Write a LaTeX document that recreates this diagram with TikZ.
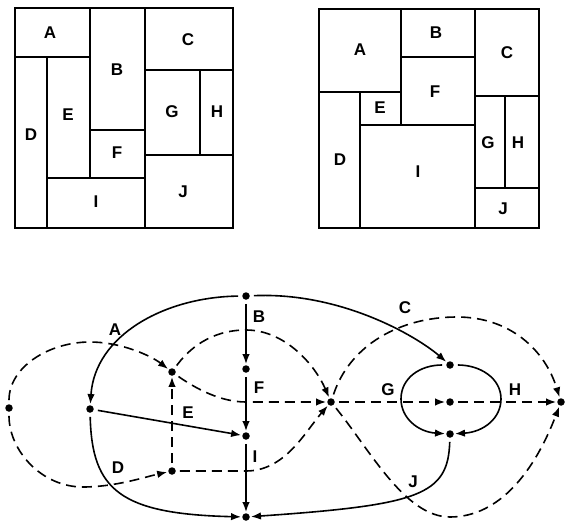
\documentclass[tikz,border=0pt]{standalone}
\usepackage{fontspec}
\setmainfont{Liberation Sans}
\usetikzlibrary{arrows.meta}
\begin{document}
\begin{tikzpicture}[x=1pt,y=-1pt,
  room/.style={draw, line width=1.9pt},
  lbl/.style={font=\fontsize{17}{17}\selectfont\bfseries, inner sep=0pt},
  dot/.style={circle, fill, inner sep=0pt, minimum size=7.5pt},
  edge/.style={line width=1.6pt, -{Latex[length=10pt,width=7.5pt]}, shorten >=1pt, shorten <=4pt},
  dsh/.style={edge, dash pattern=on 10pt off 6pt}]
\useasboundingbox (0,0) rectangle (565,524);

% ---- left floor plan ----
\draw[room] (15,8) rectangle (90,57);
\draw[room] (90,8) rectangle (145,130);
\draw[room] (90,130) rectangle (145,178);
\draw[room] (15,57) rectangle (47,228);
\draw[room] (47,57) rectangle (90,178);
\draw[room] (47,178) rectangle (145,228);
\draw[room] (145,8) rectangle (233,70);
\draw[room] (145,70) rectangle (200,155);
\draw[room] (200,70) rectangle (233,155);
\draw[room] (145,155) rectangle (233,228);
\node[lbl] (pA) at (50,33) {A};
\node[lbl] (pB) at (117,70) {B};
\node[lbl] (pC) at (188,40) {C};
\node[lbl] (pD) at (31,135) {D};
\node[lbl] (pE) at (68,115) {E};
\node[lbl] (pF) at (117,153) {F};
\node[lbl] (pG) at (172,112) {G};
\node[lbl] (pH) at (217,112) {H};
\node[lbl] (pI) at (96,202) {I};
\node[lbl] (pJ) at (183,192) {J};

% ---- right floor plan ----
\draw[room] (319,9) rectangle (401,92);
\draw[room] (401,9) rectangle (475,57);
\draw[room] (401,57) rectangle (475,125);
\draw[room] (360,92) rectangle (401,125);
\draw[room] (319,92) rectangle (360,228);
\draw[room] (360,125) rectangle (475,228);
\draw[room] (475,9) rectangle (539,96);
\draw[room] (475,96) rectangle (505,188);
\draw[room] (505,96) rectangle (539,188);
\draw[room] (475,188) rectangle (539,228);
\node[lbl] (qA) at (360,50) {A};
\node[lbl] (qB) at (436,33) {B};
\node[lbl] (qC) at (507,53) {C};
\node[lbl] (qD) at (340,160) {D};
\node[lbl] (qE) at (380,108) {E};
\node[lbl] (qF) at (435,92) {F};
\node[lbl] (qG) at (488,143) {G};
\node[lbl] (qH) at (518,143) {H};
\node[lbl] (qI) at (418,172) {I};
\node[lbl] (qJ) at (503,209) {J};

% ---- graph nodes ----
\node[dot] (top) at (246,296) {};
\node[dot] (F) at (246,369) {};
\node[dot] (I) at (246,436) {};
\node[dot] (bot) at (246,517) {};
\node[dot] (L) at (9,408) {};
\node[dot] (A) at (90,409) {};
\node[dot] (E) at (172,372) {};
\node[dot] (D) at (172,471) {};
\node[dot] (X) at (331,402) {};
\node[dot] (Gt) at (450,365) {};
\node[dot] (Gm) at (450,402) {};
\node[dot] (Gb) at (450,434) {};
\node[dot] (R) at (561,402) {};
\coordinate (Gl) at (401,399);
\coordinate (Gr) at (501,399);

% ---- solid edges ----
\draw[edge] (top) .. controls (165,297) and (95,335) .. (A);
\draw[edge] (top) -- (F);
\draw[edge] (F) -- (I);
\draw[edge] (I) -- (bot);
\draw[edge] (A) -- (I);
\draw[edge] (A) .. controls (92,490) and (120,514) .. (bot);
\draw[edge] (Gb) .. controls (448,495) and (420,505) .. (bot);
\draw[edge] (top) .. controls (340,292) and (415,335) .. (Gt);
\draw[edge] (Gt) .. controls (420,365) and (401,378) .. (Gl) .. controls (401,418) and (418,432) .. (Gb);
\draw[edge] (Gt) .. controls (480,365) and (501,378) .. (Gr) .. controls (501,418) and (484,432) .. (Gb);

% ---- dashed edges ----
\draw[dsh] (L) .. controls (9,367) and (49,342) .. (90,342) .. controls (120,342) and (150,355) .. (E);
\draw[dsh] (L) .. controls (9,450) and (41,487) .. (83,487) .. controls (115,487) and (145,477) .. (D);
\draw[dsh] (D) -- (E);
\draw[dsh] (E) .. controls (188,350) and (210,330) .. (246,330) .. controls (285,330) and (315,365) .. (X);
\draw[dsh] (E) .. controls (195,388) and (220,402) .. (246,402) -- (X);
\draw[dsh] (D) -- (246,471) .. controls (285,471) and (305,432) .. (X);
\draw[dsh] (X) -- (Gm);
\draw[dsh] (Gm) -- (R);
\draw[dsh] (X) .. controls (350,345) and (400,317) .. (457,317) .. controls (510,317) and (545,350) .. (R);
\draw[dsh] (X) .. controls (370,450) and (405,517) .. (450,517) .. controls (500,517) and (535,470) .. (R);

% ---- graph labels ----
\node[lbl] (lA) at (115,330) {A};
\node[lbl] (lB) at (259,317) {B};
\node[lbl] (lC) at (405,308) {C};
\node[lbl] (lD) at (118,468) {D};
\node[lbl] (lE) at (188,413) {E};
\node[lbl] (lF) at (259,388) {F};
\node[lbl] (lG) at (388,390) {G};
\node[lbl] (lH) at (515,390) {H};
\node[lbl] (lI) at (255,457) {I};
\node[lbl] (lJ) at (413,482) {J};
\end{tikzpicture}
\end{document}
